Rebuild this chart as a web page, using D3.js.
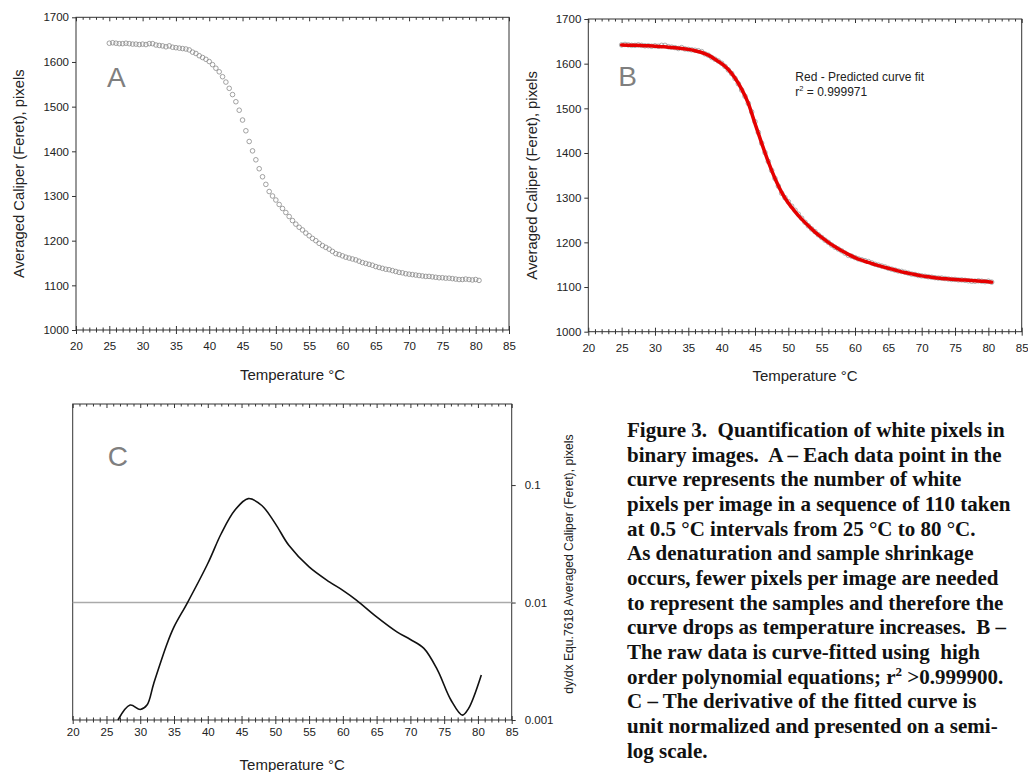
<!DOCTYPE html>
<html>
<head>
<meta charset="utf-8">
<script src="https://cdn.jsdelivr.net/npm/d3@7"></script>
<style>
  body { margin: 0; background: #fff; }
  svg { display: block; }
</style>
</head>
<body>
<svg id="fig" width="1028" height="772"></svg>
<script>
// raw data, one point every 0.5 C (panel A and grey points in B)
var temps = [25, 25.5, 26, 26.5, 27, 27.5, 28, 28.5, 29, 29.5, 30, 30.5, 31, 31.5, 32, 32.5, 33, 33.5, 34, 34.5,
  35, 35.5, 36, 36.5, 37, 37.5, 38, 38.5, 39, 39.5, 40, 40.5, 41, 41.5, 42, 42.5, 43, 43.5, 44, 44.5,
  45, 45.5, 46, 46.5, 47, 47.5, 48, 48.5, 49, 49.5, 50, 50.5, 51, 51.5, 52, 52.5, 53, 53.5, 54, 54.5,
  55, 55.5, 56, 56.5, 57, 57.5, 58, 58.5, 59, 59.5, 60, 60.5, 61, 61.5, 62, 62.5, 63, 63.5, 64, 64.5,
  65, 65.5, 66, 66.5, 67, 67.5, 68, 68.5, 69, 69.5, 70, 70.5, 71, 71.5, 72, 72.5, 73, 73.5, 74, 74.5,
  75, 75.5, 76, 76.5, 77, 77.5, 78, 78.5, 79, 79.5, 80, 80.5];
var caliper = [1642, 1643, 1642, 1641, 1641, 1642, 1641, 1640, 1640, 1639, 1640, 1639, 1641, 1641, 1638, 1637, 1636, 1634, 1636, 1633,
  1632, 1631, 1630, 1629, 1627, 1622, 1619, 1614, 1610, 1606, 1601, 1594, 1586, 1578, 1567, 1555, 1541, 1527, 1511, 1492,
  1470, 1446, 1422, 1401, 1381, 1361, 1343, 1326, 1310, 1300, 1291, 1281, 1272, 1263, 1254, 1245, 1237, 1230, 1224, 1217,
  1211, 1205, 1200, 1194, 1189, 1185, 1181, 1176, 1171, 1169, 1166, 1163, 1161, 1159, 1157, 1154, 1151, 1149, 1147, 1145,
  1142, 1140, 1138, 1136, 1135, 1133, 1131, 1129, 1128, 1126, 1125, 1124, 1123, 1122, 1121, 1120, 1120, 1119, 1118, 1117,
  1117, 1116, 1116, 1115, 1114, 1113, 1113, 1114, 1113, 1112, 1113, 1111];

// fitted curve (red, panel B)
var fitTemps = [25, 26, 27, 28, 29, 30, 31, 32, 33, 34, 35, 36, 37, 38, 39, 40, 41, 42, 43, 44, 45, 46, 47, 48, 49, 50, 51, 52,
  53, 54, 55, 56, 57, 58, 59, 60, 61, 62, 63, 64, 65, 66, 67, 68, 69, 70, 71, 72, 73, 74, 75, 76, 77, 78, 79, 80, 80.5];
var fitValues = [1642, 1641.5, 1641, 1640.5, 1640, 1639, 1638, 1637, 1635.5, 1634, 1632, 1629, 1625, 1619, 1610, 1600, 1587, 1568,
  1543, 1511, 1466, 1422, 1380, 1343, 1312, 1288, 1269, 1252, 1237, 1223, 1211, 1200, 1190, 1181, 1173, 1166, 1160, 1155,
  1150, 1146, 1142, 1138, 1134, 1131, 1128, 1125, 1123, 1121, 1119, 1118, 1117, 1116, 1115, 1114, 1113, 1112, 1111];

// derivative of the fit, unit normalized (panel C, log scale)
var derivTemps = [26.7, 28.5, 30, 31, 32, 34, 35, 37, 40, 42, 44, 46, 48, 50, 52, 55, 58, 60, 62, 65, 68, 70, 72, 74, 76, 77.7, 78.6, 80.5];
var derivValues = [0.001, 0.00134, 0.00123, 0.00134, 0.00205, 0.0045, 0.0062, 0.0100, 0.0215, 0.0387, 0.061, 0.0767, 0.067, 0.047,
  0.0307, 0.0201, 0.0150, 0.0127, 0.0105, 0.00755, 0.00563, 0.00484, 0.00407, 0.00267, 0.00148, 0.00110, 0.00125, 0.00242];

var xTicks = [20, 25, 30, 35, 40, 45, 50, 55, 60, 65, 70, 75, 80, 85];
var yTicks = [1000, 1100, 1200, 1300, 1400, 1500, 1600, 1700];
var logTicks = [0.001, 0.01, 0.1];
var yTitle = "Averaged Caliper (Feret), pixels";
var y2Title = "dy/dx Equ.7618 Averaged Caliper (Feret), pixels";
var xTitle = "Temperature \u00B0C";

var caption = [
  "Figure 3.  Quantification of white pixels in",
  "binary images.  A \u2013 Each data point in the",
  "curve represents the number of white",
  "pixels per image in a sequence of 110 taken",
  "at 0.5 \u00B0C intervals from 25 \u00B0C to 80 \u00B0C.",
  "As denaturation and sample shrinkage",
  "occurs, fewer pixels per image are needed",
  "to represent the samples and therefore the",
  "curve drops as temperature increases.  B \u2013",
  "The raw data is curve-fitted using  high",
  "order polynomial equations; r^2 >0.999900.",
  "C \u2013 The derivative of the fitted curve is",
  "unit normalized and presented on a semi-",
  "log scale."
];

var svg = d3.select("#fig");
var font = "Liberation Sans, Arial, sans-serif";
var axisColor = "#333";

var minorTicks = d3.range(20, 86, 1);

// frame + x axes (bottom: crossing ticks, top: inward ticks)
function drawFrame(g, x, w, h, labelOffset) {
  g.append("rect").attr("width", w).attr("height", h)
    .attr("fill", "none").attr("stroke", axisColor).attr("stroke-width", 1);

  var top = g.append("g").call(d3.axisTop(x).tickValues(minorTicks).tickFormat("").tickSizeOuter(0));
  top.select(".domain").remove();
  top.selectAll(".tick line").attr("y2", function(d) { return d % 5 === 0 ? 4 : 2.5; }).attr("stroke", axisColor);

  var bot = g.append("g").attr("transform", "translate(0," + h + ")")
    .call(d3.axisBottom(x).tickValues(minorTicks).tickFormat("").tickSizeOuter(0));
  bot.select(".domain").remove();
  bot.selectAll(".tick line")
    .attr("y1", function(d) { return d % 5 === 0 ? -4 : -2.5; })
    .attr("y2", function(d) { return d % 5 === 0 ? 4 : 2.5; })
    .attr("stroke", axisColor);

  var lab = g.append("g").attr("transform", "translate(0," + h + ")")
    .call(d3.axisBottom(x).tickValues(xTicks).tickFormat(d3.format("d")).tickSize(0).tickPadding(labelOffset));
  lab.select(".domain").remove();
  lab.selectAll("text").attr("font-family", font).attr("font-size", 11.5).attr("fill", "#222");
}

function leftAxis(g, y) {
  var ax = g.append("g").call(d3.axisLeft(y).tickValues(yTicks).tickFormat(d3.format("d")).tickSize(4).tickSizeOuter(0).tickPadding(3));
  ax.select(".domain").remove();
  ax.selectAll(".tick line").attr("stroke", axisColor);
  ax.selectAll("text").attr("font-family", font).attr("font-size", 11.5).attr("fill", "#222");
}

function addTitles(g, w, h, xTitleY, yTitleX) {
  g.append("text").attr("x", w / 2).attr("y", xTitleY)
    .attr("text-anchor", "middle").attr("font-family", font).attr("font-size", 15).attr("fill", "#222")
    .text(xTitle);
  g.append("text").attr("transform", "translate(" + yTitleX + "," + h / 2 + ") rotate(-90)")
    .attr("text-anchor", "middle").attr("dy", "0.35em").attr("font-family", font).attr("font-size", 14.8).attr("fill", "#222")
    .text(yTitle);
}

function panelLetter(g, txt, x, y) {
  g.append("text").attr("x", x).attr("y", y).attr("font-family", font).attr("font-size", 28)
    .attr("fill", "#7f7f7f").text(txt);
}

// ---------- Panel A ----------
var boxA = { left: 76, top: 17.3, right: 509, bottom: 330 };
var wA = boxA.right - boxA.left, hA = boxA.bottom - boxA.top;
var gA = svg.append("g").attr("transform", "translate(" + boxA.left + "," + boxA.top + ")");
var xA = d3.scaleLinear().domain([20, 85]).range([0, wA]);
var yA = d3.scaleLinear().domain([1000, 1700]).range([hA, 0]);
drawFrame(gA, xA, wA, hA, 12);
leftAxis(gA, yA);
addTitles(gA, wA, hA, 363, -57);
panelLetter(gA, "A", 31, 70);

gA.append("g").selectAll("circle")
  .data(temps)
  .enter()
  .append("circle")
  .attr("cx", function(d) { return xA(d); })
  .attr("cy", function(d, i) { return yA(caliper[i]); })
  .attr("r", 2.3)
  .attr("fill", "none")
  .attr("stroke", "#8a8a8a")
  .attr("stroke-width", 0.8);

// ---------- Panel B ----------
var boxB = { left: 588.3, top: 19, right: 1021.7, bottom: 331.7 };
var wB = boxB.right - boxB.left, hB = boxB.bottom - boxB.top;
var gB = svg.append("g").attr("transform", "translate(" + boxB.left + "," + boxB.top + ")");
var xB = d3.scaleLinear().domain([20, 85]).range([0, wB]);
var yB = d3.scaleLinear().domain([1000, 1700]).range([hB, 0]);
drawFrame(gB, xB, wB, hB, 12);
leftAxis(gB, yB);
addTitles(gB, wB, hB, 362, -56);
panelLetter(gB, "B", 30, 67);

gB.append("g").selectAll("circle")
  .data(temps)
  .enter()
  .append("circle")
  .attr("cx", function(d) { return xB(d); })
  .attr("cy", function(d, i) { return yB(caliper[i]); })
  .attr("r", 2.3)
  .attr("fill", "none")
  .attr("stroke", "#9a9a9a")
  .attr("stroke-width", 0.8);

var fitLine = d3.line()
  .x(function(d) { return xB(d); })
  .y(function(d, i) { return yB(fitValues[i]); })
  .curve(d3.curveMonotoneX);
gB.append("path").attr("d", fitLine(fitTemps))
  .attr("fill", "none").attr("stroke", "#e50000").attr("stroke-width", 3.5).attr("stroke-linecap", "round");

gB.append("text").attr("x", 207).attr("y", 62)
  .attr("font-family", font).attr("font-size", 12).attr("fill", "#222")
  .text("Red - Predicted curve fit");
var r2 = gB.append("text").attr("x", 207).attr("y", 77).attr("font-family", font).attr("font-size", 12).attr("fill", "#222");
r2.append("tspan").text("r");
r2.append("tspan").attr("font-size", 7.5).attr("dy", -5).text("2");
r2.append("tspan").attr("dy", 5).text(" = 0.999971");

// ---------- Panel C ----------
var boxC = { left: 72.7, top: 404, right: 511.7, bottom: 720 };
var wC = boxC.right - boxC.left, hC = boxC.bottom - boxC.top;
var gC = svg.append("g").attr("transform", "translate(" + boxC.left + "," + boxC.top + ")");
var xC = d3.scaleLinear().domain([20, 85]).range([0, wC]);
var yC = d3.scaleLog().domain([0.001, 0.49]).range([hC, 0]);
drawFrame(gC, xC, wC, hC, 8);

// grid line at 0.01
gC.append("line").attr("x1", 0).attr("x2", wC).attr("y1", yC(0.01)).attr("y2", yC(0.01))
  .attr("stroke", "#aaa").attr("stroke-width", 1.5);

var right = gC.append("g").attr("transform", "translate(" + wC + ",0)")
  .call(d3.axisRight(yC).tickValues(logTicks).tickFormat(function(d) { return String(d); }).tickSize(4).tickPadding(9));
right.select(".domain").remove();
right.selectAll(".tick line").attr("stroke", axisColor);
right.selectAll("text").attr("font-family", font).attr("font-size", 11.5).attr("fill", "#222");

gC.append("text").attr("x", wC / 2).attr("y", 366)
  .attr("text-anchor", "middle").attr("font-family", font).attr("font-size", 15).attr("fill", "#222")
  .text(xTitle);
gC.append("text").attr("transform", "translate(" + (wC + 57) + "," + (hC / 2 + 2) + ") rotate(-90)")
  .attr("text-anchor", "middle").attr("dy", "0.35em").attr("font-family", font).attr("font-size", 12.2).attr("fill", "#222")
  .text(y2Title);
panelLetter(gC, "C", 35, 62);

var derivLine = d3.line()
  .x(function(d) { return xC(d); })
  .y(function(d, i) { return yC(derivValues[i]); })
  .curve(d3.curveCatmullRom.alpha(0.5));
gC.append("path").attr("d", derivLine(derivTemps))
  .attr("fill", "none").attr("stroke", "#111").attr("stroke-width", 1.6);

// ---------- caption ----------
var cap = svg.append("g").attr("transform", "translate(627,437)");
caption.forEach(function(line, i) {
  var t = cap.append("text").attr("x", 0).attr("y", i * 24.67)
    .attr("font-family", "Liberation Serif, Times New Roman, serif").attr("font-weight", "bold")
    .attr("font-size", 21).attr("fill", "#111").style("white-space", "pre");
  if (line.indexOf("r^2") >= 0) {
    var parts = line.split("r^2");
    t.append("tspan").text(parts[0] + "r");
    t.append("tspan").attr("font-size", 13).attr("dy", -8).text("2");
    t.append("tspan").attr("dy", 8).text(parts[1]);
  } else {
    t.text(line);
  }
});
</script>
</body>
</html>
